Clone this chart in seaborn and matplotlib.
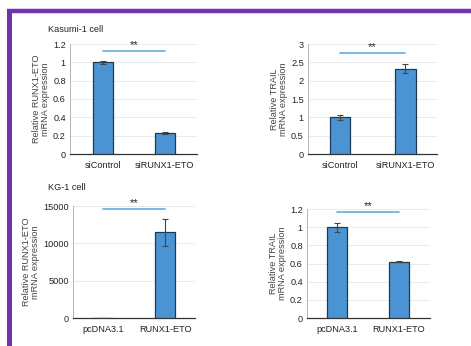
import numpy as np
import pandas as pd
import matplotlib
matplotlib.use("Agg")
import matplotlib.pyplot as plt
import seaborn as sns
from matplotlib.lines import Line2D

# values
kas_groups = ["siControl", "siRUNX1-ETO"]
kas_runx = [1.0, 0.23]
kas_runx_err = [0.02, 0.01]
kas_trail = [1.0, 2.33]
kas_trail_err = [0.07, 0.12]

kg_groups = ["pcDNA3.1", "RUNX1-ETO"]
kg_runx = [1.0, 11500]
kg_runx_err = [0.0, 1800]
kg_trail = [1.0, 0.62]
kg_trail_err = [0.05, 0.005]

sns.set_theme(style="white")
plt.rcParams["font.family"] = ["Liberation Sans", "DejaVu Sans"]

W, H = 471, 346
fig = plt.figure(figsize=(W / 100, H / 100), dpi=100)

bar_col = "#4a94d4"
edge_col = "#1d3a55"
sig_col = "#6bb3e3"
fs = 6.6


def px(l, b, r, t):
    return [l / W, 1 - b / H, (r - l) / W, (b - t) / H]


def panel(rect, groups, vals, errs, ymax, yticks, ylabel, xlim, sig_y):
    ax = fig.add_axes(rect)
    df = pd.DataFrame({"group": groups, "value": vals})
    sns.barplot(data=df, x="group", y="value", color=bar_col, width=0.32,
                edgecolor=edge_col, linewidth=0.9, saturation=1, ax=ax, zorder=3)
    ax.errorbar(range(len(groups)), vals, yerr=errs, fmt="none", ecolor="#444444",
                elinewidth=0.8, capsize=2.5, capthick=0.8, zorder=4)
    ax.set_ylim(0, ymax)
    ax.set_xlim(*xlim)
    ax.set_yticks(yticks)
    ax.set_yticklabels(["%g" % t for t in yticks])
    ax.yaxis.grid(True, color="#e6e6e6", linewidth=0.6, zorder=0)
    ax.set_axisbelow(True)
    for s in ["top", "right"]:
        ax.spines[s].set_visible(False)
    ax.spines["left"].set_color("#aaaaaa")
    ax.spines["left"].set_linewidth(0.6)
    ax.spines["bottom"].set_color("#333333")
    ax.spines["bottom"].set_linewidth(0.9)
    ax.tick_params(axis="both", length=0, labelsize=fs, colors="#222222")
    ax.tick_params(axis="x", pad=5)
    ax.tick_params(axis="y", pad=3)
    ax.set_xlabel("")
    ax.set_ylabel(ylabel, fontsize=fs, color="#444444", labelpad=2, linespacing=1.0)
    ax.plot([0, 1], [sig_y, sig_y], color=sig_col, linewidth=1.3, zorder=5)
    ax.text(0.5, sig_y + ymax * 0.01, "**", ha="center", va="bottom",
            fontsize=8, color="#222222")
    return ax


panel(px(70, 154, 197, 44), kas_groups, kas_runx, kas_runx_err, 1.2,
      [0, 0.2, 0.4, 0.6, 0.8, 1, 1.2], "Relative RUNX1-ETO\nmRNA expression",
      (-0.53, 1.52), 1.12)
panel(px(308, 154, 437, 44), kas_groups, kas_trail, kas_trail_err, 3,
      [0, 0.5, 1, 1.5, 2, 2.5, 3], "Relative TRAIL\nmRNA expression",
      (-0.49, 1.49), 2.75)
panel(px(73, 318, 195, 206), kg_groups, kg_runx, kg_runx_err, 15000,
      [0, 5000, 10000, 15000], "Relative RUNX1-ETO\nmRNA expression",
      (-0.48, 1.48), 14600)
panel(px(307, 318, 430, 209), kg_groups, kg_trail, kg_trail_err, 1.2,
      [0, 0.2, 0.4, 0.6, 0.8, 1, 1.2], "Relative TRAIL\nmRNA expression",
      (-0.48, 1.5), 1.17)

fig.text(48 / W, 1 - 30 / H, "Kasumi-1 cell", fontsize=fs, color="#222222",
         ha="left", va="center")
fig.text(48 / W, 1 - 188 / H, "KG-1 cell", fontsize=fs, color="#222222",
         ha="left", va="center")

# purple frame (top and left)
purple = "#7232a8"
fig.add_artist(Line2D([7 / W, 1], [1 - 11 / H, 1 - 11 / H], color=purple,
                      linewidth=3.2, transform=fig.transFigure, solid_capstyle="butt"))
fig.add_artist(Line2D([9 / W, 9 / W], [0, 1 - 9 / H], color=purple,
                      linewidth=3.6, transform=fig.transFigure, solid_capstyle="butt"))

fig.savefig("out.png", dpi=100)
